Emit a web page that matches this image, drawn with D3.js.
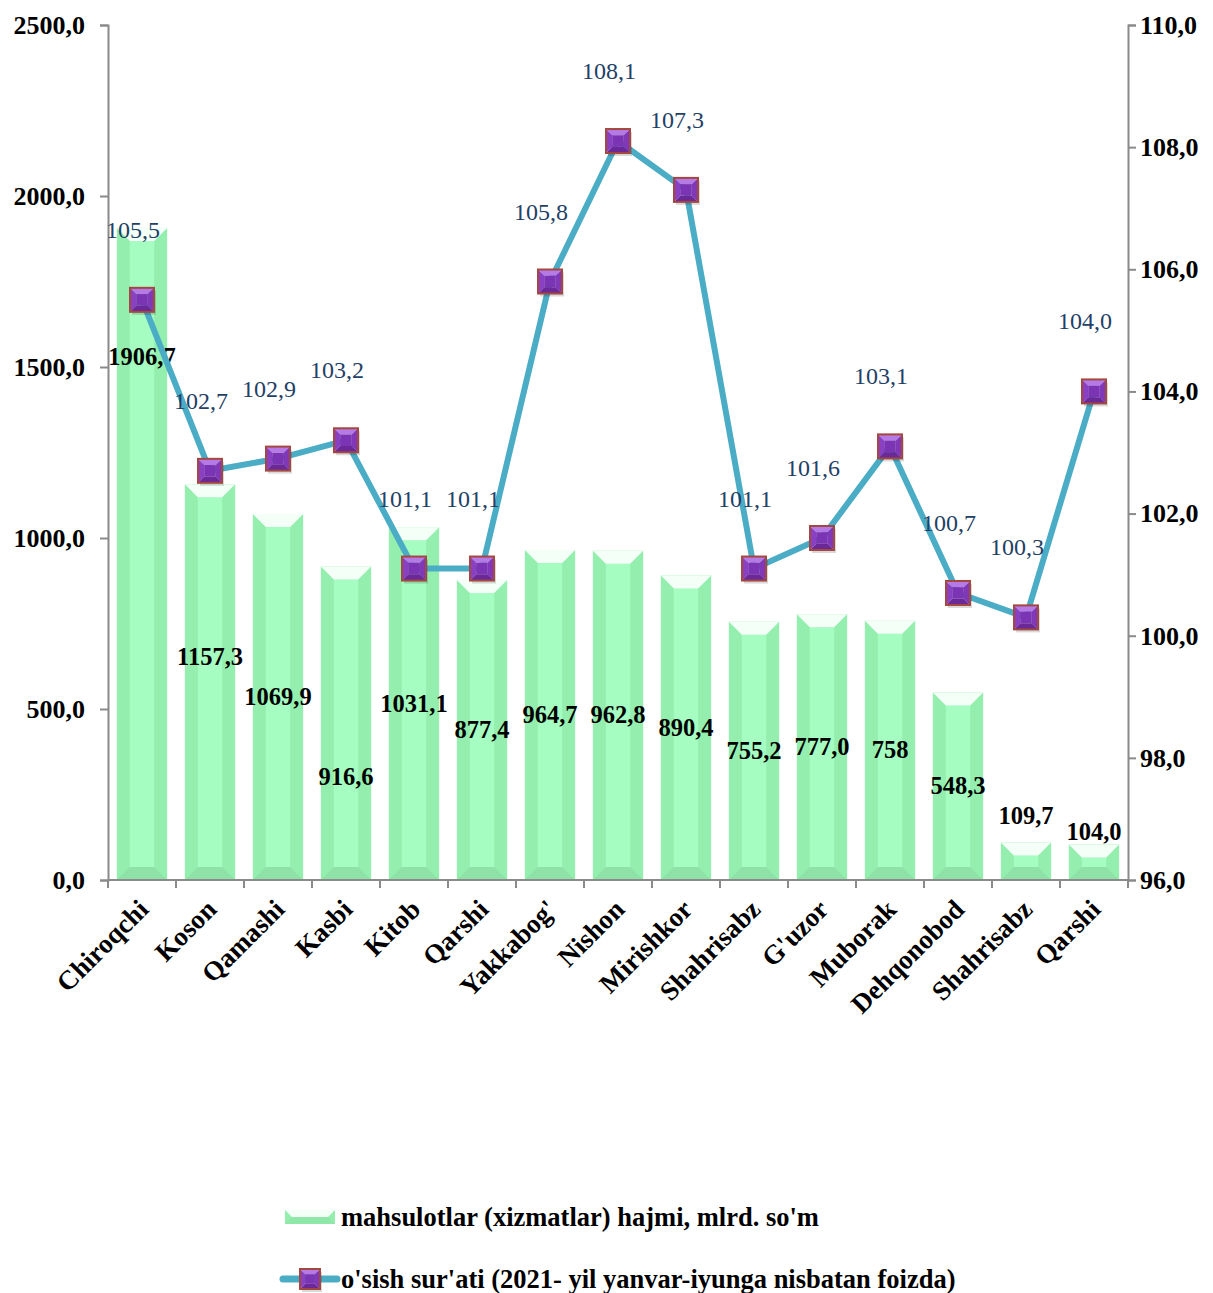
<!DOCTYPE html>
<html><head><meta charset="utf-8">
<script src="https://cdn.jsdelivr.net/npm/d3@7"></script>
<style>body{margin:0;background:#fff}svg{display:block}text{font-family:"Liberation Serif","Times New Roman",serif}</style>
</head><body><svg id="c" width="1213" height="1293"></svg>
<script>
const categories = ["Chiroqchi","Koson","Qamashi","Kasbi","Kitob","Qarshi","Yakkabog'","Nishon","Mirishkor","Shahrisabz","G'uzor","Muborak","Dehqonobod","Shahrisabz","Qarshi"];
const volume = [1906.7,1157.3,1069.9,916.6,1031.1,877.4,964.7,962.8,890.4,755.2,777.0,758,548.3,109.7,104.0];
const volumeLabels = ["1906,7","1157,3","1069,9","916,6","1031,1","877,4","964,7","962,8","890,4","755,2","777,0","758","548,3","109,7","104,0"];
const growth = [105.5,102.7,102.9,103.2,101.1,101.1,105.8,108.1,107.3,101.1,101.6,103.1,100.7,100.3,104.0];
const leftTicks = [0,500,1000,1500,2000,2500];
const rightTicks = [96,98,100,102,104,106,108,110];
const seriesNames = ["mahsulotlar (xizmatlar) hajmi, mlrd. so'm","o'sish sur'ati (2021- yil yanvar-iyunga nisbatan foizda)"];

const fmt = v => d3.format(".1f")(v).replace(".", ",");
const svg = d3.select("#c");
const L = 108, R = 1128, T = 25, B = 880;
const x = d3.scaleBand().domain(d3.range(categories.length)).range([L, R]).paddingInner(0.26).paddingOuter(0.13);
const yL = d3.scaleLinear().domain([0, 2500]).range([B, T]);
const yR = d3.scaleLinear().domain([96, 110]).range([B, T]);
const axisCol = "#8a8a8a";

// bars (beveled)
const bw = x.bandwidth();
const g = svg.append("g");
volume.forEach((v, i) => {
  const x0 = x(i), x1 = x0 + bw, y0 = yL(v), y1 = B;
  const h = y1 - y0;
  const bev = Math.min(13, h / 2, bw / 2);
  const gg = g.append("g");
  gg.append("rect").attr("x", x0).attr("y", y0).attr("width", bw).attr("height", h).attr("fill", "#94efaf");
  gg.append("rect").attr("x", x0 + bev).attr("y", y0 + bev).attr("width", bw - 2 * bev).attr("height", Math.max(0, h - 2 * bev)).attr("fill", "#a5fdc1");
  gg.append("polygon").attr("points", [[x0, y0], [x1, y0], [x1 - bev, y0 + bev], [x0 + bev, y0 + bev]].join(" ")).attr("fill", "#f3fff7");
  gg.append("polygon").attr("points", [[x0, y1], [x1, y1], [x1 - bev, y1 - bev], [x0 + bev, y1 - bev]].join(" ")).attr("fill", "#8fe2a7");
});

// axes
const axL = svg.append("g").attr("transform", `translate(${L},0)`)
  .call(d3.axisLeft(yL).tickValues(leftTicks).tickSize(8).tickFormat(fmt));
const axR = svg.append("g").attr("transform", `translate(${R},0)`)
  .call(d3.axisRight(yR).tickValues(rightTicks).tickSize(8).tickFormat(fmt));
[axL, axR].forEach(a => {
  a.select(".domain").attr("stroke", axisCol).attr("stroke-width", 2);
  a.selectAll(".tick line").attr("stroke", axisCol).attr("stroke-width", 2);
  a.selectAll("text").attr("font-size", 26).attr("font-weight", "bold").attr("fill", "#000")
    .style("font-family", '"Liberation Serif",serif');
});
axL.selectAll("text").attr("x", -23);
axR.selectAll("text").attr("x", 12);

// x axis line and ticks at band boundaries
const step = x.step();
svg.append("line").attr("x1", L).attr("x2", R).attr("y1", B).attr("y2", B).attr("stroke", axisCol).attr("stroke-width", 2);
d3.range(categories.length + 1).forEach(i => {
  const xx = L + i * step;
  svg.append("line").attr("x1", xx).attr("x2", xx).attr("y1", B).attr("y2", B + 8).attr("stroke", axisCol).attr("stroke-width", 2);
});
categories.forEach((c, i) => {
  const cx = x(i) + bw / 2;
  svg.append("text").attr("transform", `translate(${cx + 8},${B + 31}) rotate(-45)`)
    .attr("text-anchor", "end").attr("font-size", 27).attr("font-weight", "bold").text(c);
});

// bar labels
const barLabelDy = [-197, -25, 0, 54, 0, 0, 0, 0, 0, 0, 0, 0, 0, -45, -30];
volume.forEach((v, i) => {
  const cy = (yL(v) + B) / 2 + barLabelDy[i];
  svg.append("text").attr("x", x(i) + bw / 2).attr("y", cy + 8).attr("text-anchor", "middle")
    .attr("font-size", 24.5).attr("font-weight", "bold").attr("fill", "#000").text(volumeLabels[i]);
});

// line
const line = d3.line().x((d, i) => x(i) + bw / 2).y(d => yR(d));
svg.append("path").datum(growth).attr("d", line).attr("fill", "none").attr("stroke", "#4bacc6").attr("stroke-width", 6).attr("stroke-linejoin", "round");

function marker(sel, cx, cy, s) {
  const h = s / 2, ins = s * 0.26;
  const a = [cx - h, cy - h], b = [cx + h, cy - h], c = [cx + h, cy + h], d = [cx - h, cy + h];
  const ia = [cx - h + ins, cy - h + ins], ib = [cx + h - ins, cy - h + ins], ic = [cx + h - ins, cy + h - ins], id = [cx - h + ins, cy + h - ins];
  const m = sel.append("g");
  m.append("rect").attr("x", cx - h + 2).attr("y", cy - h + 3).attr("width", s).attr("height", s).attr("fill", "rgba(0,0,0,0.15)");
  m.append("polygon").attr("points", [a, b, ib, ia].join(" ")).attr("fill", "#b57ae6");
  m.append("polygon").attr("points", [b, c, ic, ib].join(" ")).attr("fill", "#8038b8");
  m.append("polygon").attr("points", [c, d, id, ic].join(" ")).attr("fill", "#6a2898");
  m.append("polygon").attr("points", [d, a, ia, id].join(" ")).attr("fill", "#8a40c2");
  m.append("rect").attr("x", ia[0]).attr("y", ia[1]).attr("width", s - 2 * ins).attr("height", s - 2 * ins).attr("fill", "#7a34b4");
  m.append("rect").attr("x", cx - h).attr("y", cy - h).attr("width", s).attr("height", s).attr("fill", "none").attr("stroke", "#a4473e").attr("stroke-width", 2);
}
growth.forEach((v, i) => marker(svg, x(i) + bw / 2, yR(v), 24));

// line labels
growth.forEach((v, i) => {
  svg.append("text").attr("x", x(i) + bw / 2 - 9).attr("y", yR(v) - 62).attr("text-anchor", "middle")
    .attr("font-size", 24).attr("fill", "#243f66").text(fmt(v));
});

// legend
const lg = svg.append("g");
{
  const x0 = 285, x1 = 335, y0 = 1210, y1 = 1224, bev = 7;
  lg.append("rect").attr("x", x0).attr("y", y0).attr("width", x1 - x0).attr("height", y1 - y0).attr("fill", "#94efaf");
  lg.append("polygon").attr("points", [[x0, y0], [x1, y0], [x1 - bev, y0 + bev], [x0 + bev, y0 + bev]].join(" ")).attr("fill", "#f3fff7");
  lg.append("polygon").attr("points", [[x0 + bev, y0 + bev], [x1 - bev, y0 + bev], [x1, y1], [x0, y1]].join(" ")).attr("fill", "#90e8a8");
  lg.append("text").attr("x", 341).attr("y", 1226).attr("font-size", 26.5).attr("font-weight", "bold").text(seriesNames[0]);
  lg.append("line").attr("x1", 283).attr("x2", 337).attr("y1", 1279).attr("y2", 1279).attr("stroke", "#4bacc6").attr("stroke-width", 7).attr("stroke-linecap", "round");
  marker(lg, 310, 1279, 20);
  lg.append("text").attr("x", 341).attr("y", 1288).attr("font-size", 26.5).attr("font-weight", "bold").text(seriesNames[1]);
}
</script></body></html>
